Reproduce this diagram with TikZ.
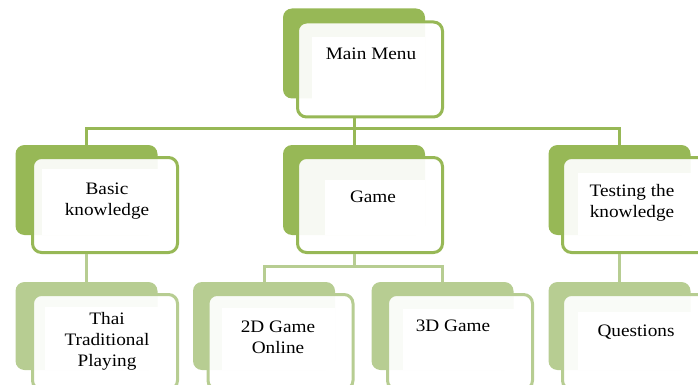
\documentclass[tikz,border=0pt]{standalone}
\usepackage{fontspec}
\setmainfont[FakeStretch=1.1]{Liberation Serif}
\definecolor{olive}{HTML}{97B856}
\definecolor{olivelite}{HTML}{B7CD92}
\tikzset{
  backbox/.style={draw=none, fill=olive, rounded corners=9pt, inner sep=0pt,
    minimum width=142pt, minimum height=90pt},
  backlite/.style={backbox, fill=olivelite, minimum height=88pt},
  frontbox/.style={draw=olive, line width=3pt, fill=white, fill opacity=0.93,
    rounded corners=9pt, inner sep=0pt, minimum width=145pt, minimum height=95pt},
  frontlite/.style={frontbox, draw=olivelite},
  conn/.style={draw=olive, line width=3pt},
  connlite/.style={conn, draw=olivelite},
  label/.style={font=\fontsize{17.5}{21}\selectfont, align=center, text=black, inner sep=0pt}
}
\begin{document}
\begin{tikzpicture}[x=1pt, y=-1pt]
\useasboundingbox (0,0) rectangle (698,385);
\clip (0,0) rectangle (698,385);

% back plates
\node[backbox] (mmb) at (354,53.5) {};
\node[backbox] (bkb) at (86.5,190) {};
\node[backbox] (gmb) at (354,190) {};
\node[backbox] (tsb) at (619.5,190) {};
\node[backlite] (thb) at (86.5,326) {};
\node[backlite] (g2b) at (264,326) {};
\node[backlite] (g3b) at (442.5,326) {};
\node[backlite] (qub) at (619.5,326) {};

% front cards
\node[frontbox] (mmf) at (370,69.5) {};
\node[frontbox] (bkf) at (105,205) {};
\node[frontbox] (gmf) at (370,205) {};
\node[frontbox] (tsf) at (635,205) {};
\node[frontlite] (thf) at (105,342) {};
\node[frontlite] (g2f) at (280.5,342) {};
\node[frontlite] (g3f) at (460,342) {};
\node[frontlite] (quf) at (635,342) {};

% text areas
\fill[white] (312,37) rectangle (mmb.south east);
\fill[white] (42,169) rectangle (bkb.south east);
\fill[white] (325,180) rectangle (gmb.south east);
\fill[white] (578,173) rectangle (tsb.south east);
\fill[white] (45,307) rectangle (thb.south east);
\fill[white] (222,308) rectangle (g2b.south east);
\fill[white] (403,309) rectangle (g3b.south east);
\fill[white] (578,312) rectangle (qub.south east);

% connectors
\coordinate (mmj) at (mmb.center |- 128,128);
\draw[conn] (mmb.center |- mmf.south) -- (mmj);
\draw[conn] (mmj) -| (bkb.north);
\draw[conn] (mmj) -| (tsb.north);
\draw[conn] (mmj) -- (gmb.north);

\draw[connlite] (bkb.center |- bkf.south) -- (thb.north);
\draw[connlite] (tsb.center |- tsf.south) -- (qub.north);
\coordinate (gmj) at (gmb.center |- 266,266);
\draw[connlite] (gmb.center |- gmf.south) -- (gmj);
\draw[connlite] (gmj) -| (g2b.north);
\draw[connlite] (gmj) -| (g3b.north);

% labels
\node[label] (mmt) at (371,54) {Main Menu};
\node[label] (bkt) at (107,201) {Basic\\knowledge};
\node[label] (gmt) at (373,197) {Game};
\node[label] (tst) at (632,202.5) {Testing the\\knowledge};
\node[label] (tht) at (107,341) {Thai\\Traditional\\Playing};
\node[label] (g2t) at (278,337) {2D Game\\Online};
\node[label] (g3t) at (453,326) {3D Game};
\node[label] (qut) at (636,332) {Questions};
\end{tikzpicture}
\end{document}
